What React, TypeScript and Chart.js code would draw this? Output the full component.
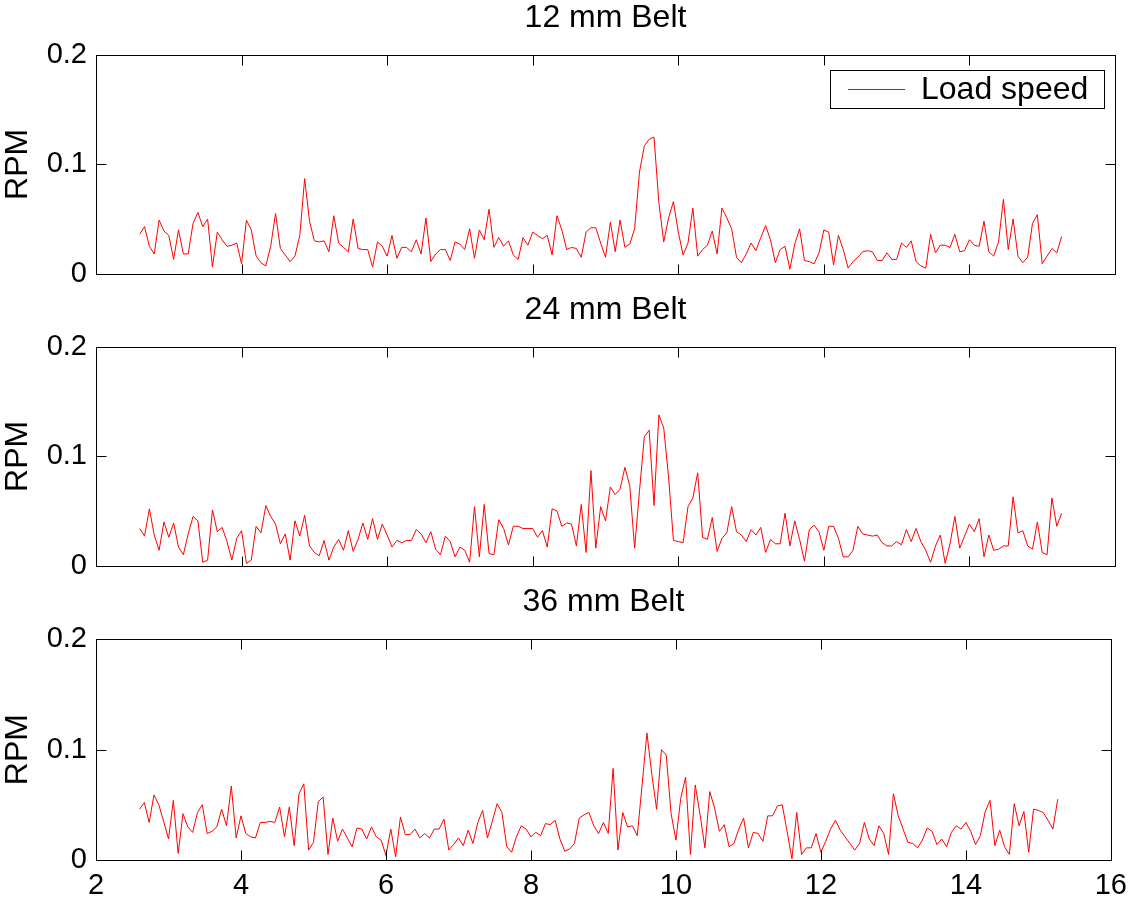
import React, { useEffect, useRef } from 'react';
import { Chart, registerables } from 'chart.js';

Chart.register(...registerables);

const FONT_FAMILY = '"Liberation Sans", Arial, Helvetica, sans-serif';
const TICK_FONT_SIZE = 29;
const LABEL_FONT_SIZE = 32;

// sampling grid of the recorded signal
const T0 = 2.6;
const DT = 1 / 15;

const subplotTitles = ['12 mm Belt', '24 mm Belt', '36 mm Belt'];
const yAxisLabel = 'RPM';
const legendLabel = 'Load speed';
const xTickValues = [2, 4, 6, 8, 10, 12, 14, 16];
const xTickLabels = ['2', '4', '6', '8', '10', '12', '14', '16'];
const yTickValues = [0, 0.1, 0.2];
const yTickLabels = ['0', '0.1', '0.2'];

const belt12 = [
  0.036, 0.043, 0.025, 0.018, 0.049, 0.039, 0.035, 0.013, 0.040, 0.018,
  0.018, 0.046, 0.056, 0.043, 0.050, 0.006, 0.038, 0.031, 0.025, 0.026,
  0.028, 0.009, 0.049, 0.040, 0.016, 0.010, 0.007, 0.025, 0.055, 0.023,
  0.017, 0.011, 0.016, 0.035, 0.087, 0.048, 0.030, 0.029, 0.030, 0.020,
  0.053, 0.028, 0.024, 0.020, 0.050, 0.023, 0.022, 0.022, 0.006, 0.029,
  0.025, 0.016, 0.035, 0.014, 0.024, 0.024, 0.020, 0.031, 0.018, 0.051,
  0.011, 0.018, 0.022, 0.022, 0.012, 0.029, 0.027, 0.022, 0.041, 0.014,
  0.040, 0.031, 0.059, 0.024, 0.033, 0.025, 0.030, 0.017, 0.013, 0.033,
  0.026, 0.038, 0.035, 0.032, 0.035, 0.017, 0.053, 0.040, 0.022, 0.024,
  0.023, 0.015, 0.038, 0.042, 0.042, 0.028, 0.015, 0.047, 0.020, 0.049,
  0.024, 0.027, 0.041, 0.093, 0.117, 0.123, 0.125, 0.065, 0.029, 0.051,
  0.066, 0.038, 0.017, 0.028, 0.060, 0.016, 0.022, 0.026, 0.039, 0.018,
  0.060, 0.051, 0.041, 0.015, 0.010, 0.018, 0.028, 0.021, 0.033, 0.044,
  0.031, 0.010, 0.022, 0.025, 0.004, 0.027, 0.041, 0.012, 0.011, 0.009,
  0.019, 0.040, 0.038, 0.008, 0.035, 0.022, 0.005, 0.011, 0.015, 0.020,
  0.021, 0.020, 0.012, 0.012, 0.019, 0.013, 0.013, 0.028, 0.024, 0.030,
  0.011, 0.007, 0.005, 0.036, 0.019, 0.026, 0.026, 0.024, 0.036, 0.020,
  0.021, 0.031, 0.026, 0.025, 0.048, 0.020, 0.016, 0.029, 0.068, 0.022,
  0.050, 0.016, 0.010, 0.015, 0.046, 0.054, 0.009, 0.016, 0.023, 0.019,
  0.034,
];

const belt24 = [
  0.034, 0.027, 0.052, 0.028, 0.014, 0.040, 0.026, 0.039, 0.017, 0.010,
  0.029, 0.045, 0.041, 0.003, 0.005, 0.051, 0.031, 0.035, 0.022, 0.005,
  0.025, 0.032, 0.002, 0.005, 0.036, 0.030, 0.055, 0.045, 0.038, 0.020,
  0.029, 0.005, 0.041, 0.027, 0.046, 0.018, 0.012, 0.009, 0.023, 0.005,
  0.017, 0.024, 0.014, 0.032, 0.013, 0.024, 0.039, 0.024, 0.043, 0.024,
  0.038, 0.028, 0.017, 0.023, 0.021, 0.023, 0.023, 0.033, 0.029, 0.021,
  0.031, 0.015, 0.010, 0.027, 0.022, 0.008, 0.017, 0.014, 0.003, 0.054,
  0.008, 0.056, 0.011, 0.010, 0.042, 0.034, 0.019, 0.036, 0.036, 0.034,
  0.034, 0.034, 0.026, 0.032, 0.017, 0.052, 0.050, 0.036, 0.039, 0.038,
  0.018, 0.056, 0.012, 0.087, 0.016, 0.054, 0.041, 0.072, 0.065, 0.070,
  0.090, 0.073, 0.016, 0.068, 0.118, 0.124, 0.055, 0.138, 0.126, 0.081,
  0.023, 0.022, 0.021, 0.054, 0.062, 0.085, 0.026, 0.024, 0.044, 0.013,
  0.025, 0.030, 0.054, 0.031, 0.028, 0.022, 0.033, 0.028, 0.035, 0.012,
  0.024, 0.020, 0.020, 0.048, 0.018, 0.041, 0.024, 0.004, 0.033, 0.037,
  0.031, 0.014, 0.036, 0.036, 0.025, 0.008, 0.008, 0.014, 0.036, 0.029,
  0.028, 0.027, 0.028, 0.021, 0.018, 0.018, 0.022, 0.019, 0.033, 0.022,
  0.034, 0.022, 0.014, 0.003, 0.018, 0.028, 0.002, 0.020, 0.045, 0.016,
  0.027, 0.038, 0.031, 0.043, 0.008, 0.028, 0.014, 0.015, 0.018, 0.018,
  0.063, 0.030, 0.032, 0.018, 0.015, 0.040, 0.012, 0.010, 0.062, 0.036,
  0.048,
];

const belt36 = [
  0.046, 0.052, 0.034, 0.059, 0.050, 0.035, 0.019, 0.054, 0.006, 0.042,
  0.030, 0.025, 0.043, 0.050, 0.024, 0.026, 0.030, 0.046, 0.031, 0.067,
  0.020, 0.040, 0.024, 0.021, 0.020, 0.034, 0.034, 0.035, 0.034, 0.048,
  0.021, 0.048, 0.013, 0.060, 0.069, 0.009, 0.016, 0.053, 0.057, 0.005,
  0.038, 0.017, 0.028, 0.020, 0.012, 0.029, 0.028, 0.019, 0.030, 0.021,
  0.018, 0.004, 0.028, 0.003, 0.039, 0.023, 0.023, 0.028, 0.020, 0.024,
  0.020, 0.028, 0.028, 0.037, 0.009, 0.014, 0.020, 0.013, 0.027, 0.015,
  0.034, 0.045, 0.020, 0.035, 0.051, 0.043, 0.012, 0.007, 0.021, 0.031,
  0.028, 0.021, 0.025, 0.022, 0.033, 0.032, 0.036, 0.019, 0.008, 0.010,
  0.015, 0.038, 0.041, 0.043, 0.031, 0.024, 0.034, 0.024, 0.083, 0.009,
  0.043, 0.030, 0.031, 0.022, 0.068, 0.115, 0.078, 0.046, 0.100, 0.095,
  0.042, 0.018, 0.056, 0.075, 0.005, 0.068, 0.041, 0.011, 0.062, 0.047,
  0.026, 0.032, 0.012, 0.015, 0.028, 0.038, 0.011, 0.025, 0.024, 0.017,
  0.040, 0.040, 0.049, 0.050, 0.026, 0.001, 0.043, 0.005, 0.011, 0.011,
  0.024, 0.007, 0.017, 0.028, 0.036, 0.027, 0.021, 0.015, 0.009, 0.015,
  0.034, 0.019, 0.013, 0.031, 0.024, 0.005, 0.060, 0.040, 0.028, 0.016,
  0.015, 0.011, 0.018, 0.029, 0.026, 0.014, 0.019, 0.012, 0.025, 0.031,
  0.028, 0.034, 0.026, 0.014, 0.022, 0.044, 0.054, 0.013, 0.027, 0.012,
  0.005, 0.051, 0.031, 0.044, 0.007, 0.046, 0.045, 0.043, 0.036, 0.028,
  0.055,
];

const seriesList = [belt12, belt24, belt36];

const sampleTimes = belt12.map((_, i) => T0 + i * DT);

const TICK_LEN = 10;

const axesBoxPlugin = {
  id: 'axesBox',
  afterDatasetsDraw(chart: any) {
    const { ctx, chartArea, scales } = chart;
    const { left, right, top, bottom } = chartArea;
    const xs = scales.x;
    const ys = scales.y;
    ctx.save();
    ctx.strokeStyle = '#000';
    ctx.lineWidth = 1;
    const L = Math.round(left) + 0.5;
    const R = Math.round(right) + 0.5;
    const T = Math.round(top) + 0.5;
    const B = Math.round(bottom) + 0.5;
    ctx.beginPath();
    ctx.rect(L, T, R - L, B - T);
    xTickValues.forEach((v) => {
      const px = Math.round(xs.getPixelForValue(v)) + 0.5;
      ctx.moveTo(px, B);
      ctx.lineTo(px, B - TICK_LEN);
      ctx.moveTo(px, T);
      ctx.lineTo(px, T + TICK_LEN);
    });
    yTickValues.forEach((v) => {
      const py = Math.round(ys.getPixelForValue(v)) + 0.5;
      ctx.moveTo(L, py);
      ctx.lineTo(L + TICK_LEN, py);
      ctx.moveTo(R, py);
      ctx.lineTo(R - TICK_LEN, py);
    });
    ctx.stroke();
    ctx.restore();
  },
};

const legendBoxPlugin = {
  id: 'legendBox',
  afterDraw(chart: any) {
    const { ctx, chartArea } = chart;
    const ds = chart.data.datasets[0];
    const boxR = Math.round(chartArea.right) - 11;
    const boxT = Math.round(chartArea.top) + 15;
    const boxW = 274;
    const boxH = 38;
    const boxL = boxR - boxW;
    ctx.save();
    ctx.fillStyle = '#fff';
    ctx.fillRect(boxL, boxT, boxW, boxH);
    ctx.strokeStyle = '#000';
    ctx.lineWidth = 1;
    ctx.strokeRect(boxL + 0.5, boxT + 0.5, boxW, boxH);
    const cy = boxT + boxH / 2 + 0.5;
    ctx.strokeStyle = ds.borderColor;
    ctx.beginPath();
    ctx.moveTo(boxL + 18, cy);
    ctx.lineTo(boxL + 75, cy);
    ctx.stroke();
    ctx.fillStyle = '#000';
    ctx.font = `${LABEL_FONT_SIZE}px ${FONT_FAMILY}`;
    ctx.textAlign = 'left';
    ctx.textBaseline = 'middle';
    ctx.fillText(ds.label, boxL + 91, cy + 1);
    ctx.restore();
  },
};

function makeConfig(values: number[], idx: number): any {
  const tickFont = { family: FONT_FAMILY, size: TICK_FONT_SIZE, weight: 'normal' as const };
  const labelFont = { family: FONT_FAMILY, size: LABEL_FONT_SIZE, weight: 'normal' as const, lineHeight: 1.1 };
  const isBottom = idx === 2;
  const xScale: any = {
    type: 'linear',
    min: 2,
    max: 16,
    display: isBottom,
    afterBuildTicks: (s: any) => {
      s.ticks = xTickValues.map((v) => ({ value: v }));
    },
    ticks: {
      font: tickFont,
      color: '#000',
      padding: 9,
      maxRotation: 0,
      autoSkip: false,
      callback: (_v: any, i: number) => xTickLabels[i],
    },
    grid: { display: false, drawTicks: false },
    border: { display: false },
  };
  if (isBottom) {
    xScale.afterFit = (s: any) => {
      s.height = 47;
    };
  }
  return {
    type: 'line',
    data: {
      datasets: [
        {
          label: legendLabel,
          data: values.map((v, i) => ({ x: sampleTimes[i], y: v })),
          borderColor: '#ff0000',
          backgroundColor: '#ff0000',
          borderWidth: 1,
          pointRadius: 0,
          fill: false,
          tension: 0,
        },
      ],
    },
    options: {
      responsive: false,
      animation: false,
      devicePixelRatio: 1,
      layout: { padding: { left: 0, right: 21, top: 0, bottom: isBottom ? 0 : 24 } },
      scales: {
        x: xScale,
        y: {
          type: 'linear',
          min: 0,
          max: 0.2,
          afterBuildTicks: (s: any) => {
            s.ticks = yTickValues.map((v) => ({ value: v }));
          },
          ticks: {
            font: tickFont,
            color: '#000',
            padding: 9,
            callback: (_v: any, i: number) => yTickLabels[i],
          },
          grid: { display: false, drawTicks: false },
          border: { display: false },
          title: {
            display: true,
            text: yAxisLabel,
            font: labelFont,
            color: '#000',
            padding: { top: 1, bottom: 0 },
          },
          afterFit: (s: any) => {
            s.width = 96;
          },
        },
      },
      plugins: {
        legend: { display: false },
        tooltip: { enabled: false },
        title: {
          display: true,
          fullSize: false,
          text: subplotTitles[idx],
          font: labelFont,
          color: '#000',
          padding: { top: 1, bottom: 19 },
        },
      },
    },
    plugins: idx === 0 ? [axesBoxPlugin, legendBoxPlugin] : [axesBoxPlugin],
  };
}

const canvasTops = [0, 292, 584];
const canvasHeights = [300, 300, 323];

export default function App() {
  const refs = [useRef<HTMLCanvasElement>(null), useRef<HTMLCanvasElement>(null), useRef<HTMLCanvasElement>(null)];
  useEffect(() => {
    const charts = refs.map((r, i) => new Chart(r.current as HTMLCanvasElement, makeConfig(seriesList[i], i)));
    return () => charts.forEach((c) => c.destroy());
  }, []);
  return (
    <div style={{ position: 'absolute', left: 0, top: 0, width: 1136, height: 907, background: '#fff' }}>
      {refs.map((r, i) => (
        <canvas
          key={i}
          ref={r}
          width={1136}
          height={canvasHeights[i]}
          style={{ position: 'absolute', left: 0, top: canvasTops[i], width: 1136, height: canvasHeights[i] }}
        />
      ))}
    </div>
  );
}
